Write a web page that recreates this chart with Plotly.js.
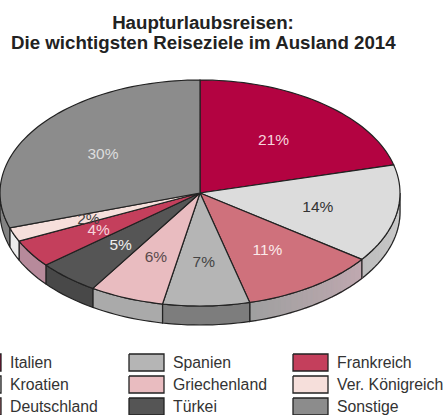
<!DOCTYPE html>
<html><head><meta charset="utf-8">
<script src="https://cdn.plot.ly/plotly-3.0.1.min.js"></script>
<style>html,body{margin:0;padding:0;background:#fff}#c{width:446px;height:415px}</style>
</head><body><div id="c"></div>
<script>
const categories = ['Italien','Kroatien','Deutschland','Spanien','Griechenland','Türkei','Frankreich','Ver. Königreich','Sonstige'];
const shares = [21,14,11,7,6,5,4,2,30];
const topColors = ['#b30341','#dcdcdc','#cf717c','#b5b5b5','#e9bcc0','#555555','#c43f5c','#f6dfdb','#8c8c8c'];
const sideStart = [[154,3,56],[205,205,205],[192,168,176],[125,125,125],[170,170,170],[72,72,72],[183,138,155],[236,236,236],[130,130,130]];
const sideEnd   = [[154,3,56],[190,190,190],[160,160,160],[125,125,125],[170,170,170],[72,72,72],[183,138,155],[236,236,236],[130,130,130]];
const labelColors = ['#f6d5dc','#333333','#fbeaea','#444444','#5a4a4c','#eeeeee','#f6d5dc','#444444','#dddddd'];
const lineColor = '#222222';

const W = 446, H = 415, cx = 200, cy = 193, rx = 200, ry = 113, depth = 19, labelR = 0.6, textNudge = 2;
const fontFamily = 'Liberation Sans, Arial, sans-serif';
const px = t => cx + rx * Math.sin(t);
const py = t => cy - ry * Math.cos(t);
const rad = p => p * 2 * Math.PI / 100;
const data = [];
function poly(x, y, fill, lw, lc) {
  data.push({type:'scatter',mode:'lines',x,y,fill:'toself',fillcolor:fill,
    line:{color:lc || lineColor,width:lw,simplify:false},hoverinfo:'skip',showlegend:false});
}
function arc(a, b) {
  const n = Math.max(2, Math.ceil((b - a) * 2)), out = [];
  for (let i = 0; i <= n; i++) out.push(rad(a + (b - a) * i / n));
  return out;
}
function wall(ts, fill, lw, lc) {
  const xs = ts.map(px), ys = ts.map(py), rts = ts.slice().reverse();
  poly(xs.concat(rts.map(px), [xs[0]]), ys.concat(rts.map(t => py(t) + depth), [ys[0]]), fill, lw, lc);
}
let cum = 0;
const spans = shares.map(s => { const r = [cum, cum + s]; cum += s; return r; });
// side walls: plain fill, or shaded strips where the colour drifts
spans.forEach(([a, b], i) => {
  const lo = Math.max(a, 25), hi = Math.min(b, 75);
  if (hi <= lo) return;
  const rgb = c => 'rgb(' + c.join(',') + ')';
  if (rgb(sideStart[i]) === rgb(sideEnd[i])) {
    wall(arc(lo, hi), rgb(sideStart[i]), 1.2);
    return;
  }
  const steps = Math.ceil(hi - lo) * 2;
  for (let k = 0; k < steps; k++) {
    const f = k / (steps - 1);
    const col = rgb(sideStart[i].map((v, j) => Math.round(v + (sideEnd[i][j] - v) * f)));
    wall(arc(lo + (hi - lo) * k / steps, lo + (hi - lo) * (k + 1) / steps), col, 1.5, col);
  }
  wall(arc(lo, hi), 'rgba(0,0,0,0)', 1.2);
});
// top wedges
spans.forEach(([a, b], i) => {
  const ts = arc(a, b);
  poly([cx].concat(ts.map(px), [cx]), [cy].concat(ts.map(py), [cy]), topColors[i], 1.2);
});
// percent labels
data.push({type:'scatter',mode:'text',hoverinfo:'skip',showlegend:false,
  x: spans.map(([a,b]) => cx + rx*labelR*Math.sin(rad((a+b)/2))),
  y: spans.map(([a,b]) => cy + textNudge - ry*labelR*Math.cos(rad((a+b)/2))),
  text: shares.map(s => s + '%'),
  textposition:'middle center',
  textfont:{family:fontFamily,size:15.5,color:labelColors}});
// legend, column by column
const colX = [-34, 129, 293], rowY = [354, 376, 398], swW = 35, swH = 17;
const lx = [], ly = [];
categories.forEach((c, k) => {
  const col = Math.floor(k / 3), row = k % 3;
  const x0 = colX[col], y0 = rowY[row];
  poly([x0,x0+swW,x0+swW,x0,x0],[y0,y0,y0+swH,y0+swH,y0], topColors[k], 1.3);
  lx.push(x0 + swW + 9); ly.push(y0 + swH/2 + textNudge);
});
data.push({type:'scatter',mode:'text',x:lx,y:ly,text:categories,textposition:'middle right',hoverinfo:'skip',showlegend:false,
  cliponaxis:false,textfont:{family:fontFamily,size:15.8,color:'#333333'}});

const titleFont = {family:fontFamily,size:18.7,color:'#222222',weight:'bold'};
const layout = {
  width:W,height:H,margin:{l:0,r:0,t:0,b:0},paper_bgcolor:'#fff',plot_bgcolor:'#fff',showlegend:false,
  xaxis:{range:[0,W],visible:false,fixedrange:true},
  yaxis:{range:[H,0],visible:false,fixedrange:true},
  title:{text:'Haupturlaubsreisen:',font:titleFont,x:203/W,xanchor:'center',y:1-22/H,yanchor:'middle'},
  annotations:[{text:'Die wichtigsten Reiseziele im Ausland 2014',font:titleFont,showarrow:false,
    xref:'x',yref:'y',x:203,y:42,xanchor:'center',yanchor:'middle'}]
};
Plotly.newPlot('c',data,layout,{displayModeBar:false,staticPlot:true});
</script></body></html>
